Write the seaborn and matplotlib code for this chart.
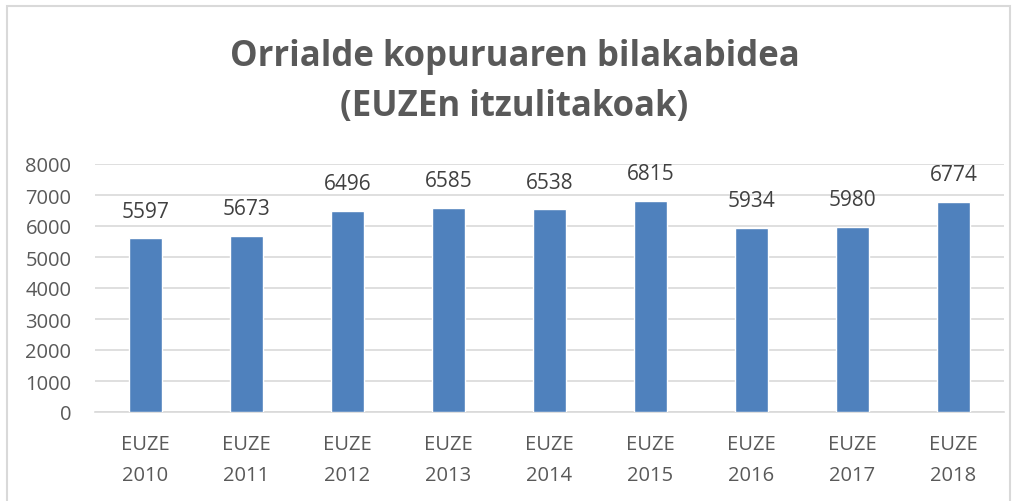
import matplotlib
matplotlib.use("Agg")
import matplotlib.pyplot as plt
import seaborn as sns
import pandas as pd
from matplotlib.patches import Rectangle

categories = ["EUZE\n2010", "EUZE\n2011", "EUZE\n2012", "EUZE\n2013", "EUZE\n2014",
              "EUZE\n2015", "EUZE\n2016", "EUZE\n2017", "EUZE\n2018"]
values = [5597, 5673, 6496, 6585, 6538, 6815, 5934, 5980, 6774]
yticks = [0, 1000, 2000, 3000, 4000, 5000, 6000, 7000, 8000]
title = "Orrialde kopuruaren bilakabidea\n(EUZEn itzulitakoak)"

sns.set_theme(style="white")
plt.rcParams['font.family'] = ['Open Sans', 'DejaVu Sans']

df = pd.DataFrame({"cat": categories, "val": values})

fig = plt.figure(figsize=(10.19, 5.02), dpi=100)
ax = fig.add_axes([95/1019, 1-413/502, 909/1019, 248/502])
sns.barplot(data=df, x="cat", y="val", color="#4f81bd", width=0.32, ax=ax,
            saturation=1, zorder=3)
ax.set_ylim(0, 8000)
ax.set_yticks(yticks)
ax.set_yticklabels([str(t) for t in yticks])
ax.yaxis.grid(True, color="#d9d9d9", linewidth=1.2, zorder=0)
ax.set_axisbelow(True)
for s in ["top", "right", "left"]:
    ax.spines[s].set_visible(False)
ax.spines["bottom"].set_color("#d9d9d9")
ax.spines["bottom"].set_linewidth(1.2)
ax.tick_params(axis="both", length=0, labelsize=14.5, colors="#595959")
ax.tick_params(axis="x", pad=16)
ax.tick_params(axis="y", pad=17)
for lbl in ax.get_xticklabels():
    lbl.set_linespacing(1.75)
ax.set_xlabel("")
ax.set_ylabel("")
for c in ax.containers:
    ax.bar_label(c, labels=[str(v) for v in values], padding=12, fontsize=15, color="#404040")

fig.text(0.505, 1-82/502, title, ha="center", va="center", fontsize=25,
         fontweight="bold", color="#595959", linespacing=1.5)
fig.patches.append(Rectangle((7/1019, -0.05), 1003/1019, 1-7/502+0.05, transform=fig.transFigure,
                             fill=False, edgecolor="#d9d9d9", linewidth=1.5))
fig.savefig("out.png", dpi=100)
